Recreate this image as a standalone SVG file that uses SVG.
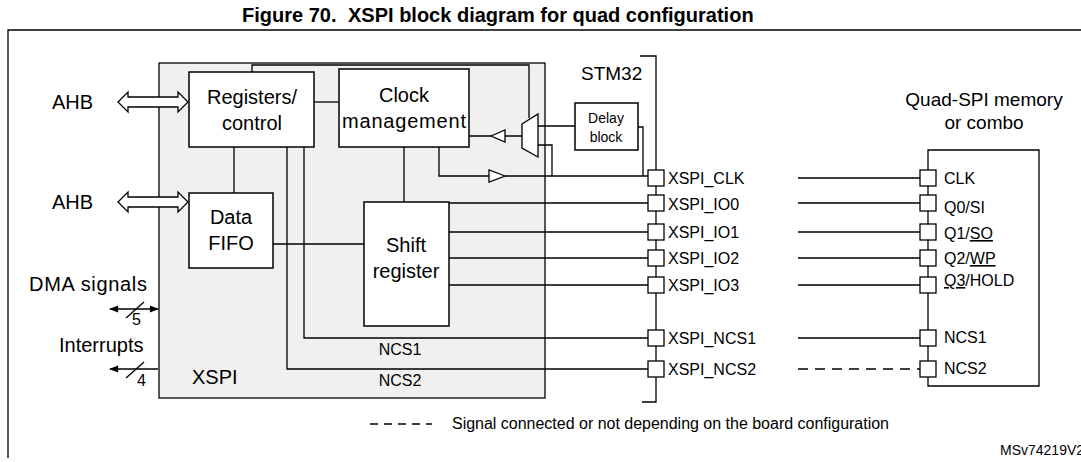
<svg xmlns="http://www.w3.org/2000/svg" width="1081" height="462" viewBox="0 0 1081 462">
<style>
text{font-family:"Liberation Sans",Arial,sans-serif;fill:#000}
.b{fill:#fff;stroke:#000;stroke-width:1.5}
.l{fill:none;stroke:#000;stroke-width:1.3}
.p{fill:#fff;stroke:#000;stroke-width:1.3}
.t20{font-size:20px}.t18{font-size:19px}.t16{font-size:16px}.t14{font-size:14px}
</style>
<defs>
<marker id="ah" viewBox="0 0 10 10" refX="9" refY="5" markerWidth="11" markerHeight="9" orient="auto-start-reverse" markerUnits="userSpaceOnUse"><path d="M0,1 L10,5 L0,9 Z" fill="#000"/></marker>
</defs>
<rect width="1081" height="462" fill="#fff"/>
<text x="242" y="22" style="font-size:20px;font-weight:bold">Figure 70.</text>
<text x="348" y="22" style="font-size:20px;font-weight:bold">XSPI block diagram for quad configuration</text>
<path class="l" d="M8,458 V30 H1090"/>
<g id="xspi"><rect x="159" y="63" width="386" height="335" fill="#f0f0f0" stroke="#000" stroke-width="1.3"/><text x="192" y="384" class="t20">XSPI</text></g>
<g id="connectors">
<path class="l" d="M314,102 H339"/>
<path class="l" d="M252,72 V65 H529 V118"/>
<path class="l" d="M234,147 V193"/>
<path class="l" d="M273,244 H364"/>
<path class="l" d="M404,147 V202"/>
<path class="l" d="M304,147 V338 H648"/>
<path class="l" d="M287,147 V369 H648"/>
<path class="l" d="M449,203 H648 M449,232 H648 M449,258 H648 M449,285 H648"/>
<path class="l" d="M469,136 H491 M505,136 H522"/>
<polygon class="p" points="491,136 505,130 505,142"/>
<path class="l" d="M439,147 V176 H489 M505,176 H648"/>
<polygon class="p" points="505,176 489,170 489,182"/>
<path class="l" d="M538,126 H575"/>
<path class="l" d="M638,127 H643 V176"/>
<path class="l" d="M538,145 H552 V176"/>
<path class="l" d="M798,178 H920 M798,203 H920 M798,232 H920 M798,258 H920 M798,285 H920 M798,338 H920"/>
<path class="l" d="M798,369 H920" stroke-dasharray="10,7"/>
<path class="l" d="M110,309 H158" marker-start="url(#ah)" marker-end="url(#ah)"/>
<path class="l" d="M126,318 L144,302"/>
<path class="l" d="M158,369 H110" marker-end="url(#ah)"/>
<path class="l" d="M126,378 L144,362"/>
</g>
<g id="ahb1"><polygon class="p" points="118,102 128,92 128,97 178,97 178,92 188,102 178,112 178,107 128,107 128,112"/><text x="52" y="109" class="t20">AHB</text></g>
<g id="ahb2"><polygon class="p" points="118,202 128,192 128,197 178,197 178,192 188,202 178,212 178,207 128,207 128,212"/><text x="52" y="209" class="t20">AHB</text></g>
<g id="registers"><rect class="b" x="189" y="72" width="125" height="75"/><text x="252" y="104" class="t20" text-anchor="middle">Registers/</text><text x="252" y="130" class="t20" text-anchor="middle">control</text></g>
<g id="clock"><rect class="b" x="339" y="69" width="130" height="78"/><text x="404" y="102" class="t20" text-anchor="middle">Clock</text><text x="404" y="128" class="t20" text-anchor="middle" textLength="124">management</text></g>
<g id="mux"><polygon class="p" points="522,124 538,114 538,157 522,148"/></g>
<g id="delay"><rect class="b" x="575" y="103" width="63" height="47" stroke-width="1.2"/><text x="606" y="123" class="t14" text-anchor="middle">Delay</text><text x="606" y="142" class="t14" text-anchor="middle">block</text></g>
<g id="fifo"><rect class="b" x="189" y="193" width="84" height="75"/><text x="231" y="224" class="t20" text-anchor="middle">Data</text><text x="231" y="250" class="t20" text-anchor="middle">FIFO</text></g>
<g id="shift"><rect class="b" x="364" y="202" width="85" height="124"/><text x="406" y="252" class="t20" text-anchor="middle">Shift</text><text x="406" y="278" class="t20" text-anchor="middle">register</text></g>
<g id="labels">
<text x="29" y="291" class="t20" textLength="118">DMA signals</text><text x="132" y="325" class="t16">5</text>
<text x="59" y="352" class="t20">Interrupts</text><text x="137" y="386" class="t16">4</text>
<text x="400" y="355" class="t16" text-anchor="middle">NCS1</text>
<text x="400" y="386" class="t16" text-anchor="middle">NCS2</text>
</g>
<g id="stm32">
<path class="l" d="M640,56 H656 V402 H642" stroke-width="1.6"/>
<text x="581" y="80" class="t18">STM32</text>
<g class="p"><rect x="648" y="170" width="16" height="16"/><rect x="648" y="195" width="16" height="16"/><rect x="648" y="224" width="16" height="16"/><rect x="648" y="250" width="16" height="16"/><rect x="648" y="277" width="16" height="16"/><rect x="648" y="330" width="16" height="16"/><rect x="648" y="361" width="16" height="16"/></g>
<g class="t16"><text x="668" y="184">XSPI_CLK</text><text x="668" y="210">XSPI_IO0</text><text x="668" y="238">XSPI_IO1</text><text x="668" y="264">XSPI_IO2</text><text x="668" y="291">XSPI_IO3</text><text x="668" y="344">XSPI_NCS1</text><text x="668" y="375">XSPI_NCS2</text></g>
</g>
<g id="memory">
<path class="l" d="M928,150 H1039 V386 H928 Z"/>
<text x="984" y="106" class="t18" text-anchor="middle">Quad-SPI memory</text>
<text x="984" y="129" class="t18" text-anchor="middle">or combo</text>
<g class="p"><rect x="920" y="170" width="16" height="16"/><rect x="920" y="195" width="16" height="16"/><rect x="920" y="224" width="16" height="16"/><rect x="920" y="250" width="16" height="16"/><rect x="920" y="277" width="16" height="16"/><rect x="920" y="330" width="16" height="16"/><rect x="920" y="361" width="16" height="16"/></g>
<g class="t16"><text x="944" y="184">CLK</text><text x="944" y="213">Q0/SI</text><text x="944" y="239">Q1/<tspan text-decoration="underline">SO</tspan></text><text x="944" y="264">Q2/<tspan text-decoration="underline">WP</tspan></text><text x="944" y="286"><tspan text-decoration="underline">Q3</tspan>/HOLD</text><text x="944" y="343">NCS1</text><text x="944" y="374">NCS2</text></g>
</g>
<g id="legend"><path class="l" d="M370,424 H432" stroke-dasharray="8,6"/><text x="452" y="429" class="t16" textLength="437">Signal connected or not depending on the board configuration</text><text x="1000" y="455" class="t14">MSv74219V2</text></g>
</svg>
